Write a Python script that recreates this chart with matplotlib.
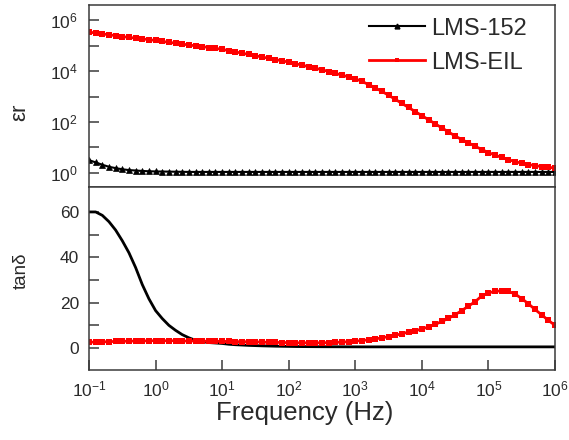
import numpy as np
import matplotlib
matplotlib.use("Agg")
import matplotlib.pyplot as plt
from matplotlib.ticker import FixedLocator, NullFormatter, NullLocator
from matplotlib.lines import Line2D

plt.rcParams['font.family'] = ['Liberation Sans', 'DejaVu Sans']
plt.rcParams['mathtext.fontset'] = 'custom'
plt.rcParams['mathtext.rm'] = 'Liberation Sans'
plt.rcParams['mathtext.it'] = 'Liberation Sans:italic'
plt.rcParams['mathtext.bf'] = 'Liberation Sans:bold'

# ---- data: frequency sweep, 10 points per decade from 0.1 Hz to 1 MHz ----
freq = np.logspace(-1, 6, 71)

series_names = ["LMS-152", "LMS-EIL"]

# dielectric constant (epsilon_r)
eps_152 = [3.2, 2.6, 2.1, 1.75, 1.55, 1.4, 1.3, 1.25, 1.2, 1.17,
           1.15, 1.14, 1.13, 1.12, 1.11, 1.1, 1.1, 1.1, 1.1, 1.1,
           1.1, 1.1, 1.1, 1.1, 1.1, 1.1, 1.1, 1.1, 1.1, 1.1,
           1.1, 1.1, 1.1, 1.1, 1.1, 1.1, 1.1, 1.1, 1.1, 1.1,
           1.1, 1.1, 1.1, 1.1, 1.1, 1.1, 1.1, 1.1, 1.1, 1.1,
           1.1, 1.1, 1.1, 1.1, 1.1, 1.1, 1.1, 1.1, 1.1, 1.1,
           1.1, 1.1, 1.1, 1.1, 1.1, 1.1, 1.1, 1.1, 1.1, 1.1,
           1.1]

log_eps_eil = [5.53, 5.49, 5.46, 5.42, 5.39, 5.35, 5.32, 5.29, 5.26, 5.23,
               5.20, 5.16, 5.13, 5.09, 5.06, 5.02, 4.99, 4.96, 4.92, 4.89,
               4.85, 4.80, 4.75, 4.70, 4.65, 4.60, 4.55, 4.50, 4.45, 4.40,
               4.35, 4.29, 4.23, 4.17, 4.11, 4.05, 3.98, 3.91, 3.84, 3.77,
               3.70, 3.59, 3.47, 3.34, 3.20, 3.05, 2.89, 2.73, 2.57, 2.41,
               2.25, 2.09, 1.93, 1.77, 1.61, 1.45, 1.31, 1.18, 1.05, 0.92,
               0.80, 0.70, 0.61, 0.52, 0.45, 0.38, 0.33, 0.29, 0.25, 0.22,
               0.20]
eps_eil = [10 ** v for v in log_eps_eil]

# loss tangent (tan delta)
tan_152 = [60.0, 60.0, 58.5, 55.7, 52.0, 47.3, 42.0, 35.5, 28.0, 21.7,
           16.5, 13.0, 10.0, 7.8, 5.9, 4.5, 3.4, 2.8, 2.4, 2.2,
           2.0, 1.65, 1.45, 1.3, 1.15, 1.05, 0.95, 0.88, 0.8, 0.75,
           0.7, 0.65, 0.62, 0.6, 0.58, 0.56, 0.55, 0.54, 0.53, 0.52,
           0.51, 0.5, 0.5, 0.5, 0.5, 0.5, 0.5, 0.5, 0.5, 0.5,
           0.5, 0.5, 0.5, 0.5, 0.5, 0.5, 0.5, 0.5, 0.5, 0.5,
           0.5, 0.5, 0.5, 0.5, 0.5, 0.5, 0.5, 0.5, 0.5, 0.5,
           0.5]

tan_eil = [2.6, 2.6, 2.7, 2.8, 2.9, 3.0, 3.0, 3.1, 3.1, 3.2,
           3.2, 3.2, 3.2, 3.2, 3.1, 3.1, 3.1, 3.0, 3.0, 3.0,
           2.9, 2.9, 2.8, 2.8, 2.7, 2.7, 2.6, 2.5, 2.5, 2.4,
           2.4, 2.3, 2.3, 2.3, 2.3, 2.3, 2.4, 2.5, 2.6, 2.8,
           3.0, 3.3, 3.6, 4.0, 4.5, 5.0, 5.6, 6.3, 7.0, 7.6,
           8.4, 9.3, 10.4, 11.7, 13.1, 14.7, 16.5, 18.5, 20.4, 23.0,
           24.3, 25.0, 25.2, 25.0, 23.8, 21.8, 19.5, 17.0, 14.6, 12.2,
           10.0]

x_ticks = [1e-1, 1e0, 1e1, 1e2, 1e3, 1e4, 1e5, 1e6]
x_ticklabels = [r"$10^{-1}$", r"$10^{0}$", r"$10^{1}$", r"$10^{2}$",
                r"$10^{3}$", r"$10^{4}$", r"$10^{5}$", r"$10^{6}$"]
eps_ticks = [1e0, 1e2, 1e4, 1e6]
eps_ticklabels = [r"$10^{0}$", r"$10^{2}$", r"$10^{4}$", r"$10^{6}$"]
tan_ticks = [0, 20, 40, 60]

# ---- figure ----
W, H = 569, 440
fig = plt.figure(figsize=(W / 100, H / 100), dpi=100)

def fx(px):
    return px / W

def fy(py):
    return 1 - py / H

L, R = 89, 555
ax1 = fig.add_axes([fx(L), fy(187), fx(R - L), (187 - 5) / H])
ax2 = fig.add_axes([fx(L), fy(370), fx(R - L), (370 - 187) / H])

spine_col = "#3a3a3a"
txt_col = "#2a2a2a"
for ax in (ax1, ax2):
    for s in ax.spines.values():
        s.set_color(spine_col)
        s.set_linewidth(1.1)
    ax.set_xscale("log")
    ax.set_xlim(1e-1, 1e6)

red = "#ff0000"
# top panel
ax1.plot(freq, eps_152, color="black", lw=1.5, marker="^", ms=3.8,
         markeredgewidth=0.5)
ax1.plot(freq, eps_eil, color=red, lw=2.0, marker="s", ms=3.8,
         markeredgewidth=0)
ax1.set_yscale("log")
ax1.set_ylim(10 ** -0.55, 10 ** 6.59)
ax1.yaxis.set_major_locator(FixedLocator(eps_ticks))
ax1.set_yticklabels(eps_ticklabels)
ax1.yaxis.set_minor_locator(FixedLocator([1e1, 1e3, 1e5]))
ax1.yaxis.set_minor_formatter(NullFormatter())
ax1.xaxis.set_major_locator(NullLocator())
ax1.xaxis.set_minor_locator(NullLocator())
ax1.tick_params(axis="y", which="both", direction="in", length=7,
                width=1.1, color=spine_col, labelsize=12.5, pad=8,
                right=False)

# bottom panel
ax2.plot(freq, tan_152, color="black", lw=2.0)
ax2.plot(freq, tan_eil, color=red, lw=2.0, marker="s", ms=3.8,
         markeredgewidth=0)
ax2.set_ylim(-9.7, 71)
ax2.yaxis.set_major_locator(FixedLocator(tan_ticks))
ax2.yaxis.set_minor_locator(FixedLocator([10, 30, 50]))
ax2.xaxis.set_major_locator(FixedLocator(x_ticks))
ax2.set_xticklabels(x_ticklabels)
ax2.xaxis.set_minor_locator(NullLocator())
ax2.tick_params(axis="both", which="both", direction="in", length=7,
                width=1.1, color=spine_col, labelsize=12.5, pad=7,
                right=False, top=False)

# labels
fig.text(fx(21), fy(113), r"$\mathrm{\varepsilon r}$", rotation=90,
         ha="center", va="center", fontsize=16, color=txt_col)
fig.text(fx(21), fy(271), "tanδ", rotation=90, ha="center", va="center",
         fontsize=13.5, color=txt_col)
fig.text(fx(305), fy(413), "Frequency (Hz)", ha="center", va="center",
         fontsize=18.5, color=txt_col)

handles = [Line2D([], [], color="black", lw=1.5, marker="^", ms=3.5),
           Line2D([], [], color=red, lw=2.0, marker="s", ms=3.0,
                  markeredgewidth=0)]
leg = ax1.legend(handles, series_names, loc="upper right",
                 bbox_to_anchor=(0.94, 0.93), frameon=False, fontsize=17,
                 handlelength=2.4, handletextpad=0.25, labelspacing=0.5,
                 borderaxespad=0.0, borderpad=0.0, markerfirst=True)
for t in leg.get_texts():
    t.set_color(txt_col)

for ax in (ax1, ax2):
    for lab in ax.get_xticklabels() + ax.get_yticklabels():
        lab.set_color(txt_col)

fig.savefig("out.png", dpi=100)
